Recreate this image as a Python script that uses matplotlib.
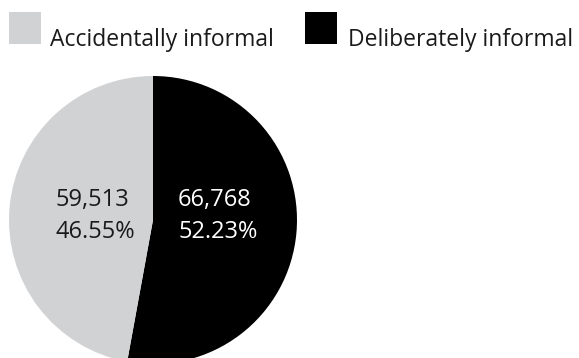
import matplotlib
matplotlib.use("Agg")
import matplotlib.pyplot as plt
from matplotlib.patches import Rectangle

categories = ["Deliberately informal", "Accidentally informal"]
values = [66768, 59513]
pct_labels = ["52.23%", "46.55%"]
colors = ["#000000", "#d1d2d4"]
text_colors = ["white", "#1a1a1a"]

plt.rcParams['font.family'] = ['Open Sans', 'DejaVu Sans']

W, H = 579, 358
fig = plt.figure(figsize=(W / 100, H / 100), dpi=100)
cx, cy, r = 153, 220, 144
ax = fig.add_axes([(cx - r) / W, (H - cy - r) / H, 2 * r / W, 2 * r / H])
wedges, _ = ax.pie(values, colors=colors, startangle=90, counterclock=False,
                   wedgeprops=dict(linewidth=0))
ax.set_xlim(-1, 1)
ax.set_ylim(-1, 1)
ax.set_aspect('equal')

label_pos = [(0.45, 0.03), (-0.40, 0.03)]
for v, p, (x, y), tc in zip(values, pct_labels, label_pos, text_colors):
    ax.text(x, y, f"{v:,}\n{p}", ha='center', va='center', multialignment='left',
            color=tc, fontsize=17, linespacing=1.45)

# legend drawn as figure artists (pixel layout from the reference)
legend_items = [(categories[1], colors[1], 9, 50), (categories[0], colors[0], 305, 348)]
sq = 32
for name, col, sx, tx in legend_items:
    fig.add_artist(Rectangle((sx / W, 1 - (12 + sq) / H), sq / W, sq / H,
                             transform=fig.transFigure, facecolor=col,
                             edgecolor='none'))
    fig.text(tx / W, 1 - 46 / H, name, ha='left', va='baseline',
             fontsize=16.5, color='#1a1a1a')

fig.savefig("out.png", dpi=100)
